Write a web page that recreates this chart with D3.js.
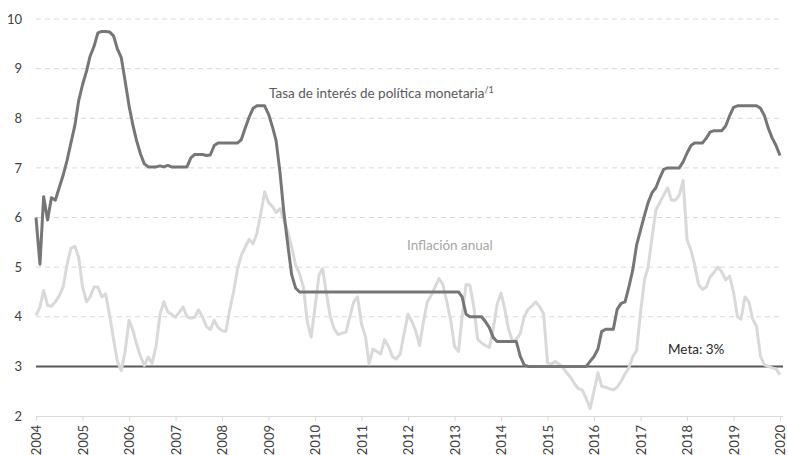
<!DOCTYPE html>
<html>
<head>
<meta charset="utf-8">
<script src="https://cdn.jsdelivr.net/npm/d3@7"></script>
<style>
  html, body { margin: 0; padding: 0; background: #fff; }
  svg { display: block; font-family: Lato, "Open Sans", sans-serif; }
</style>
</head>
<body>
<svg id="chart" width="788" height="455"></svg>
<script>
// Monthly data, Jan 2004 – Jan 2020
const startMonth = "2004-01";
const yearTicks = ["2004","2005","2006","2007","2008","2009","2010","2011","2012","2013","2014","2015","2016","2017","2018","2019","2020"];
const yTicks = [2, 3, 4, 5, 6, 7, 8, 9, 10];
const metaValue = 3;

const policyRate = [
  // 2004
  6.0, 5.06, 6.42, 5.95, 6.4, 6.35, 6.6, 6.85, 7.15, 7.5, 7.85, 8.35,
  // 2005
  8.68, 8.95, 9.25, 9.45, 9.72, 9.75, 9.75, 9.74, 9.66, 9.4, 9.22, 8.75,
  // 2006
  8.25, 7.85, 7.55, 7.28, 7.08, 7.02, 7.02, 7.02, 7.04, 7.02, 7.05, 7.02,
  // 2007
  7.02, 7.02, 7.02, 7.02, 7.2, 7.27, 7.27, 7.27, 7.25, 7.26, 7.45, 7.5,
  // 2008
  7.5, 7.5, 7.5, 7.5, 7.5, 7.57, 7.8, 8.02, 8.2, 8.25, 8.25, 8.25,
  // 2009
  8.08, 7.82, 7.55, 6.9, 6.1, 5.45, 4.85, 4.58, 4.5, 4.5, 4.5, 4.5,
  // 2010
  4.5, 4.5, 4.5, 4.5, 4.5, 4.5, 4.5, 4.5, 4.5, 4.5, 4.5, 4.5,
  // 2011
  4.5, 4.5, 4.5, 4.5, 4.5, 4.5, 4.5, 4.5, 4.5, 4.5, 4.5, 4.5,
  // 2012
  4.5, 4.5, 4.5, 4.5, 4.5, 4.5, 4.5, 4.5, 4.5, 4.5, 4.5, 4.5,
  // 2013
  4.5, 4.5, 4.4, 4.05, 4.0, 4.0, 4.0, 4.0, 3.9, 3.78, 3.58, 3.5,
  // 2014
  3.5, 3.5, 3.5, 3.5, 3.5, 3.2, 3.03, 3.0, 3.0, 3.0, 3.0, 3.0,
  // 2015
  3.0, 3.0, 3.0, 3.0, 3.0, 3.0, 3.0, 3.0, 3.0, 3.0, 3.0, 3.1,
  // 2016
  3.2, 3.35, 3.7, 3.75, 3.75, 3.75, 4.15, 4.27, 4.3, 4.6, 4.95, 5.45,
  // 2017
  5.75, 6.05, 6.3, 6.5, 6.6, 6.8, 6.97, 7.0, 7.0, 7.0, 7.0, 7.12,
  // 2018
  7.3, 7.45, 7.5, 7.5, 7.5, 7.6, 7.72, 7.75, 7.75, 7.75, 7.85, 8.05,
  // 2019
  8.22, 8.25, 8.25, 8.25, 8.25, 8.25, 8.25, 8.2, 8.05, 7.8, 7.6, 7.45,
  // 2020
  7.25
];

const inflation = [
  // 2004
  4.03, 4.2, 4.53, 4.23, 4.21, 4.3, 4.42, 4.6, 5.05, 5.38, 5.42, 5.2,
  // 2005
  4.6, 4.3, 4.4, 4.6, 4.6, 4.4, 4.46, 4.03, 3.55, 3.1, 2.92, 3.3,
  // 2006
  3.93, 3.72, 3.45, 3.2, 3.02, 3.19, 3.06, 3.4, 4.05, 4.3, 4.1, 4.05,
  // 2007
  3.99, 4.1, 4.2, 4.0, 3.97, 3.99, 4.14, 4.0, 3.8, 3.74, 3.93, 3.78,
  // 2008
  3.72, 3.71, 4.13, 4.5, 4.95, 5.24, 5.4, 5.56, 5.47, 5.68, 6.08, 6.52,
  // 2009
  6.3, 6.22, 6.1, 6.18, 5.95, 5.7, 5.41, 5.04, 4.87, 4.6, 3.9, 3.59,
  // 2010
  4.2, 4.84, 4.97, 4.46, 4.0, 3.75, 3.64, 3.67, 3.69, 4.0, 4.3, 4.4,
  // 2011
  3.85, 3.6, 3.05, 3.35, 3.3, 3.25, 3.54, 3.4, 3.2, 3.15, 3.25, 3.66,
  // 2012
  4.05, 3.9, 3.72, 3.42, 3.9, 4.3, 4.43, 4.6, 4.77, 4.65, 4.3, 3.93,
  // 2013
  3.4, 3.3, 4.0, 4.65, 4.64, 4.2, 3.55, 3.47, 3.42, 3.38, 3.76, 4.25,
  // 2014
  4.48, 4.13, 3.75, 3.5, 3.55, 3.66, 4.0, 4.15, 4.22, 4.3, 4.2, 4.06,
  // 2015
  3.07, 3.05, 3.1, 3.05, 2.98, 2.87, 2.78, 2.65, 2.55, 2.52, 2.35, 2.15,
  // 2016
  2.5, 2.87, 2.6, 2.58, 2.55, 2.53, 2.58, 2.7, 2.85, 2.97, 3.2, 3.32,
  // 2017
  4.1, 4.75, 5.0, 5.6, 6.15, 6.3, 6.45, 6.6, 6.35, 6.35, 6.45, 6.75,
  // 2018
  5.55, 5.34, 5.05, 4.65, 4.55, 4.6, 4.8, 4.9, 5.0, 4.9, 4.74, 4.82,
  // 2019
  4.5, 4.0, 3.95, 4.4, 4.3, 3.95, 3.8, 3.2, 3.03, 3.0, 2.97, 2.95,
  // 2020
  2.83
];

const svg = d3.select("#chart");
const x0 = 36, x1 = 780, xEnd = 783;
const yTop = 19, yBot = 416;

const parse = d3.timeParse("%Y-%m");
const start = parse(startMonth);
const dates = d3.range(policyRate.length).map(i => d3.timeMonth.offset(start, i));

const x = d3.scaleTime()
  .domain([parse("2004-01"), parse("2020-01")])
  .range([x0, x1]);
const y = d3.scaleLinear().domain([2, 10]).range([yBot, yTop]);

// Grid lines (dashed)
svg.append("g")
  .selectAll("line")
  .data(yTicks.filter(v => v > 3))
  .join("line")
  .attr("x1", x0).attr("x2", xEnd)
  .attr("y1", d => y(d)).attr("y2", d => y(d))
  .attr("stroke", "#d9d9d9")
  .attr("stroke-width", 1)
  .attr("stroke-dasharray", "5,4");

// Y axis labels
const yAxis = d3.axisLeft(y).tickValues(yTicks).tickSize(0).tickPadding(0).tickFormat(d3.format("d"));
const gy = svg.append("g").attr("transform", `translate(${22},0)`).call(yAxis);
gy.select(".domain").remove();
gy.selectAll("text")
  .attr("fill", "#404040")
  .attr("font-size", 13)
  .attr("font-family", "Lato, 'Open Sans', sans-serif");

// X axis
const xAxis = d3.axisBottom(x)
  .tickValues(yearTicks.map(t => parse(t + "-01")))
  .tickSize(5)
  .tickSizeOuter(0)
  .tickFormat(d3.timeFormat("%Y"));
const gx = svg.append("g").attr("transform", `translate(0,${yBot})`).call(xAxis);
gx.select(".domain").attr("stroke", "#d9d9d9").attr("d", `M${x0},0.5H${xEnd}`);
gx.selectAll(".tick line").attr("stroke", "#d9d9d9");
gx.selectAll("text")
  .attr("fill", "#404040")
  .attr("font-size", 13)
  .attr("font-family", "Lato, 'Open Sans', sans-serif")
  .attr("transform", "rotate(-90)")
  .attr("text-anchor", "end")
  .attr("dy", "0.35em")
  .attr("x", -9)
  .attr("y", 0);

// Meta line
svg.append("line")
  .attr("x1", x0).attr("x2", xEnd)
  .attr("y1", y(metaValue)).attr("y2", y(metaValue))
  .attr("stroke", "#595959")
  .attr("stroke-width", 2);

const line = d3.line()
  .x((d, i) => x(dates[i]))
  .y(d => y(d));

svg.append("path")
  .datum(inflation)
  .attr("d", line)
  .attr("fill", "none")
  .attr("stroke", "#d9d9d9")
  .attr("stroke-width", 3)
  .attr("stroke-linejoin", "round");

svg.append("path")
  .datum(policyRate)
  .attr("d", line)
  .attr("fill", "none")
  .attr("stroke", "#767676")
  .attr("stroke-width", 3)
  .attr("stroke-linejoin", "round");

// Labels
const lab1 = svg.append("text")
  .attr("x", 269).attr("y", 98)
  .attr("font-size", 13.5)
  .attr("fill", "#595959");
lab1.append("tspan").text("Tasa de interés de política monetaria");
lab1.append("tspan").attr("font-size", 9).attr("dy", -5).text("/1");

svg.append("text")
  .attr("x", 407).attr("y", 250)
  .attr("font-size", 13.5)
  .attr("fill", "#a6a6a6")
  .text("Inflación anual");

svg.append("text")
  .attr("x", 668).attr("y", 354)
  .attr("font-size", 13.5)
  .attr("fill", "#262626")
  .text("Meta: 3%");
</script>
</body>
</html>
